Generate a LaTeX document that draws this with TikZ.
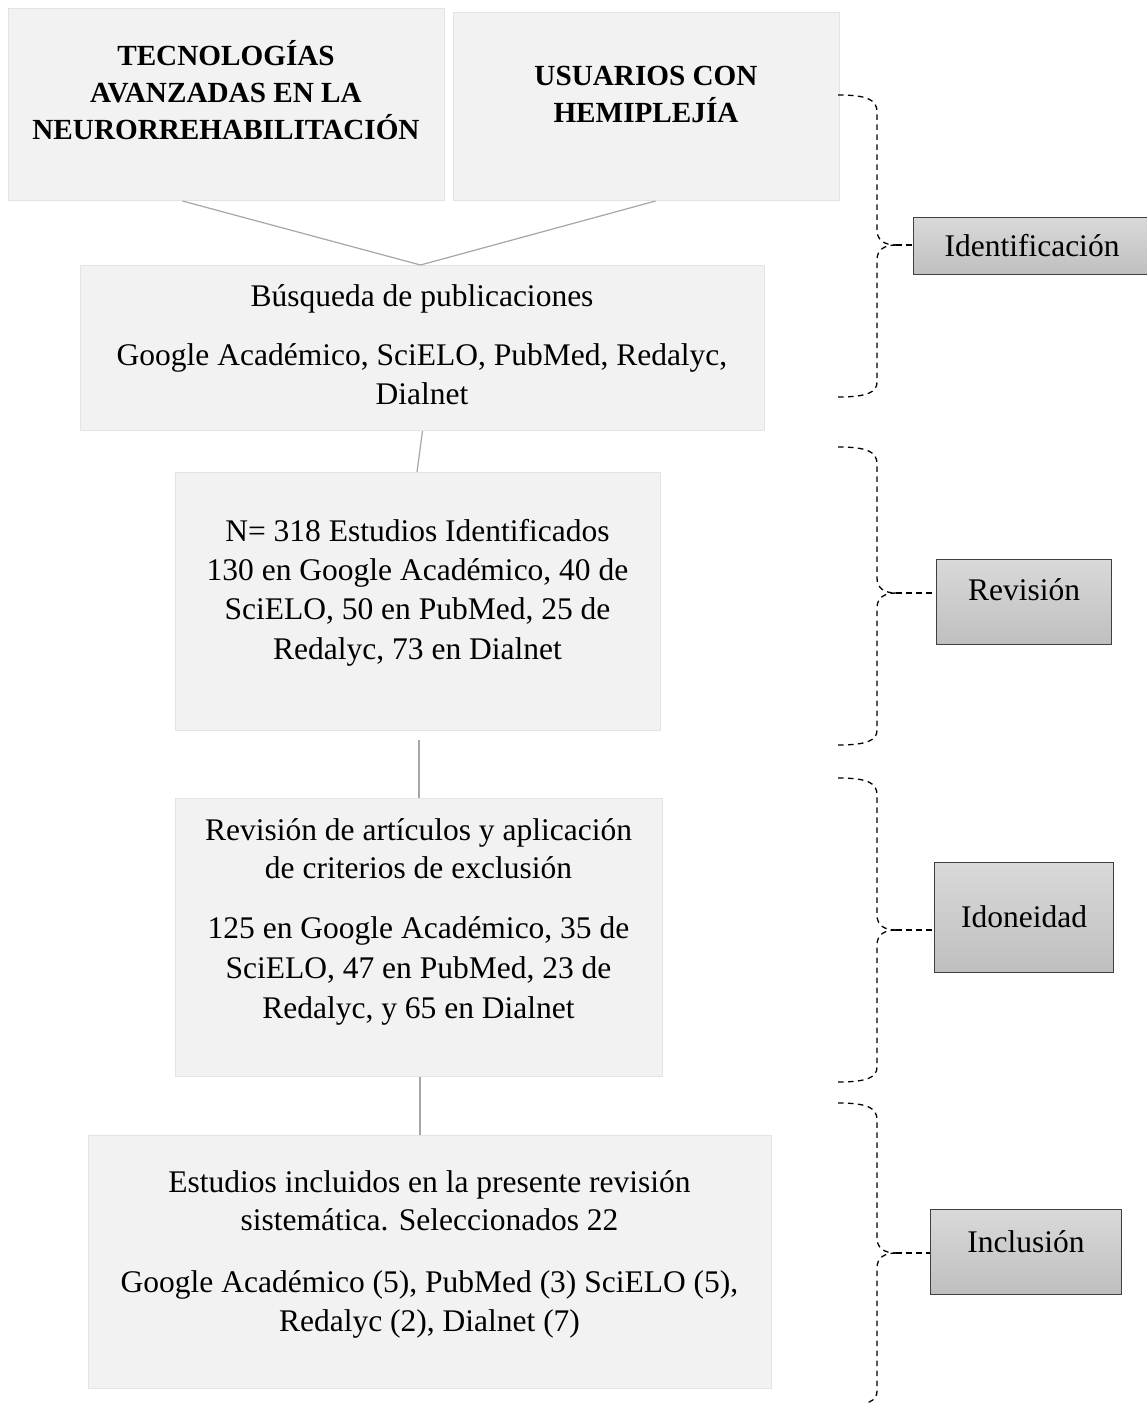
\documentclass[tikz,border=0pt]{standalone}
\usepackage{fontspec}
\setmainfont{Liberation Serif}
\definecolor{boxfill}{HTML}{F2F2F2}
\definecolor{boxline}{HTML}{E3E3E3}
\definecolor{connc}{HTML}{A6A6A6}
\definecolor{labtop}{HTML}{D9D9D9}
\definecolor{labbot}{HTML}{BFBFBF}
\definecolor{labline}{HTML}{404040}
\newcommand\mybrace[4]{%
  \draw[bracel] (838,#1) .. controls (868,#1) and (877,#1+5) .. (877,#1+17)
     -- (877,#2-15) .. controls (877,#2-5) and (884,#2) .. (896,#2) coordinate (#4tip);
  \draw[bracel] (#4tip) .. controls (884,#2) and (877,#2+5) .. (877,#2+15)
     -- (877,#3-15) .. controls (877,#3-5) and (868,#3) .. (838,#3);
  \draw[bracel] (#4tip) -- (#4tip -| #4.west);
}
\newcommand\tl[5][txt]{\node[#1] (#2) at (#3,#4) {#5};}
\begin{document}
\begin{tikzpicture}[x=1pt,y=-1pt,
  box/.style={draw=boxline, fill=boxfill, line width=1pt, inner sep=0pt, anchor=north west},
  lab/.style={draw=labline, top color=labtop, bottom color=labbot, line width=1.2pt, inner sep=0pt, anchor=north west},
  txt/.style={inner sep=0pt, anchor=base, font=\fontsize{31.5}{38}\selectfont},
  btxt/.style={txt, font=\fontsize{29.2}{36}\selectfont\bfseries},
  conn/.style={draw=connc, line width=1.2pt},
  bracel/.style={draw=black, line width=1.3pt, dash pattern=on 5.5pt off 4.5pt}]
\useasboundingbox (0,0) rectangle (1147,1403);
% boxes
\node[box, minimum width=436pt, minimum height=192pt] (b1) at (8,8) {};
\node[box, minimum width=386pt, minimum height=188pt] (b2) at (453,12) {};
\node[box, minimum width=684pt, minimum height=165pt] (b3) at (80,265) {};
\node[box, minimum width=485pt, minimum height=258pt] (b4) at (175,472) {};
\node[box, minimum width=487pt, minimum height=278pt] (b5) at (175,798) {};
\node[box, minimum width=683pt, minimum height=253pt] (b6) at (88,1135) {};
% texts
\tl[btxt]{h1a}{226}{65}{TECNOLOGÍAS}
\tl[btxt]{h1b}{226}{102}{AVANZADAS EN LA}
\tl[btxt]{h1c}{226}{139}{NEURORREHABILITACIÓN}
\tl[btxt]{h2a}{646}{85}{USUARIOS CON}
\tl[btxt]{h2b}{646}{122}{HEMIPLEJÍA}
\tl{s1}{422}{306}{Búsqueda de publicaciones}
\tl{s2}{422}{365}{Google Académico, SciELO, PubMed, Redalyc,}
\tl{s3}{422}{404}{Dialnet}
\tl{n1}{417.5}{541}{N= 318 Estudios Identificados}
\tl{n2}{417.5}{580}{130 en Google Académico, 40 de}
\tl{n3}{417.5}{619.5}{SciELO, 50 en PubMed, 25 de}
\tl{n4}{417.5}{659}{Redalyc, 73 en Dialnet}
\tl{r1}{418.5}{840}{Revisión de artículos y aplicación}
\tl{r2}{418.5}{878}{de criterios de exclusión}
\tl{r3}{418.5}{938}{125 en Google Académico, 35 de}
\tl{r4}{418.5}{978}{SciELO, 47 en PubMed, 23 de}
\tl{r5}{418.5}{1018}{Redalyc, y 65 en Dialnet}
\tl{e1}{429.5}{1192}{Estudios incluidos en la presente revisión}
\tl{e2}{429.5}{1230}{sistemática. Seleccionados 22}
\tl{e3}{429.5}{1292}{Google Académico (5), PubMed (3) SciELO (5),}
\tl{e4}{429.5}{1331}{Redalyc (2), Dialnet (7)}
% connectors
\draw[conn] ([xshift=-44pt]b1.south) -- ([xshift=-2pt]b3.north);
\draw[conn] ([xshift=9pt]b2.south) -- ([xshift=-2pt]b3.north);
\draw[conn] (b3.south) -- ([xshift=-1pt]b4.north);
\draw[conn] ([xshift=1pt,yshift=-9pt]b4.south) -- (b5.north);
\draw[conn] ([xshift=1pt]b5.south) -- ([xshift=-10pt]b6.north);
% stage labels
\node[lab, minimum width=234pt, minimum height=57pt] (l1) at (913,217) {};
\tl{lt1}{1032}{256}{Identificación}
\node[lab, minimum width=175pt, minimum height=85pt] (l2) at (936,559) {};
\tl{lt2}{1024}{600}{Revisión}
\node[lab, minimum width=179pt, minimum height=110pt] (l3) at (934,862) {};
\tl{lt3}{1024}{927}{Idoneidad}
\node[lab, minimum width=191pt, minimum height=85pt] (l4) at (930,1209) {};
\tl{lt4}{1026}{1252}{Inclusión}
% braces
\mybrace{95}{245}{397}{l1}
\mybrace{447}{593}{745}{l2}
\mybrace{778}{930}{1082}{l3}
\mybrace{1103}{1253}{1406}{l4}
\end{tikzpicture}
\end{document}
